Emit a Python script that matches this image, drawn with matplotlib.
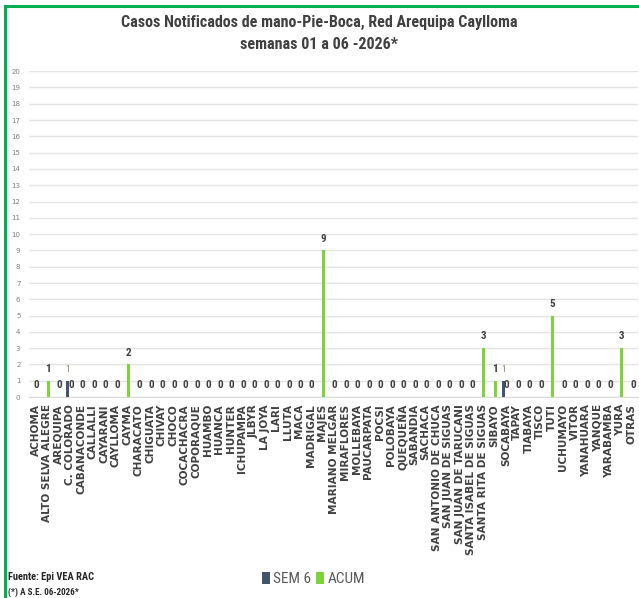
import numpy as np
import matplotlib
matplotlib.use("Agg")
import matplotlib.pyplot as plt
from matplotlib.patches import Rectangle, Patch
from matplotlib import font_manager

distritos = [
    "ACHOMA", "ALTO SELVA ALEGRE", "AREQUIPA", "C. COLORADO", "CABANACONDE",
    "CALLALLI", "CAYARANI", "CAYLLOMA", "CAYMA", "CHARACATO", "CHIGUATA",
    "CHIVAY", "CHOCO", "COCACHACRA", "COPORAQUE", "HUAMBO", "HUANCA",
    "HUNTER", "ICHUPAMPA", "JLBYR", "LA JOYA", "LARI", "LLUTA", "MACA",
    "MADRIGAL", "MAJES", "MARIANO MELGAR", "MIRAFLORES", "MOLLEBAYA",
    "PAUCARPATA", "POCSI", "POLOBAYA", "QUEQUEÑA", "SABANDIA", "SACHACA",
    "SAN ANTONIO DE CHUCA", "SAN JUAN DE SIGUAS", "SAN JUAN DE TARUCANI",
    "SANTA ISABEL DE SIGUAS", "SANTA RITA DE SIGUAS", "SIBAYO", "SOCABAYA",
    "TAPAY", "TIABAYA", "TISCO", "TUTI", "UCHUMAYO", "VITOR", "YANAHUARA",
    "YANQUE", "YARABAMBA", "YURA", "OTRAS",
]

# casos de la semana 6 (solo dos distritos)
sem6 = [0] * len(distritos)
sem6[distritos.index("C. COLORADO")] = 1
sem6[distritos.index("SOCABAYA")] = 1

# acumulado semanas 01 a 06
acum = [0] * len(distritos)
acum[distritos.index("ALTO SELVA ALEGRE")] = 1
acum[distritos.index("CAYMA")] = 2
acum[distritos.index("MAJES")] = 9
acum[distritos.index("SANTA RITA DE SIGUAS")] = 3
acum[distritos.index("SIBAYO")] = 1
acum[distritos.index("TUTI")] = 5
acum[distritos.index("YURA")] = 3

# fuente angosta si existe
nombres = {f.name for f in font_manager.fontManager.ttflist}
narrow = [n for n in ["Liberation Sans Narrow", "DejaVu Sans Condensed",
                      "Roboto Condensed", "Open Sans Condensed"] if n in nombres]
narrow = narrow + ["DejaVu Sans"]
fs_scale = 1.0 if narrow[0] != "DejaVu Sans" else 0.8

c_sem = "#44546a"
c_acum = "#7ed33a"
c_txt = "#404040"

fig = plt.figure(figsize=(6.39, 5.98), dpi=100)
ax = fig.add_axes([0.045, 0.336, 0.953, 0.545])

x = np.arange(len(distritos))
w = 0.26
ax.bar(x - 0.22, sem6, width=w, color=c_sem, zorder=3)
ax.bar(x + 0.08, acum, width=w, color=c_acum, zorder=3)

for xi, v in zip(x, sem6):
    if v > 0:
        ax.annotate(str(v), (xi - 0.22, v), xytext=(0, 8), textcoords="offset points",
                    ha="center", va="center", fontsize=6.5, color="#8a7a60",
                    family=narrow, stretch="condensed")
for xi, v in zip(x, acum):
    ax.annotate(str(v), (xi + 0.08, v), xytext=(0, 8.5), textcoords="offset points",
                ha="center", va="center", fontsize=8 * fs_scale, fontweight="bold",
                color=c_txt, family=narrow, stretch="condensed")

ax.set_xlim(-0.6, len(distritos) - 0.5)
ax.set_ylim(0, 20)
ax.set_yticks(range(0, 21))
ax.yaxis.grid(True, color="#e4e4e4", linewidth=1, zorder=0)
for s in ax.spines.values():
    s.set_visible(False)
ax.spines["bottom"].set_visible(True)
ax.spines["bottom"].set_color("#d9d9d9")
ax.tick_params(axis="both", length=0)
ax.tick_params(axis="y", labelsize=5, labelcolor="#7f7f7f", pad=6)
ax.tick_params(axis="x", pad=5)
ax.set_xticks(x)
ax.set_xticklabels(distritos, rotation=90, fontsize=7.6, fontweight="bold",
                   color=c_txt)

titulo = dict(ha="center", va="center", fontsize=11.5 * fs_scale, fontweight="bold",
              color=c_txt, family=narrow, stretch="condensed")
fig.text(0.5, 0.963, "Casos Notificados de mano-Pie-Boca, Red Arequipa Caylloma", **titulo)
fig.text(0.5, 0.925, "semanas 01 a 06 -2026*", **titulo)

fig.text(0.012, 0.035, "Fuente: Epi VEA RAC", ha="left", va="center",
         fontsize=7.5 * fs_scale, fontweight="bold", color="#262626", family=narrow,
         stretch="condensed")
fig.text(0.012, 0.01, "(*) A S.E. 06-2026*", ha="left", va="center",
         fontsize=6.5 * fs_scale, fontweight="bold", color="#262626", family=narrow,
         stretch="condensed")

handles = [Patch(facecolor=c_sem), Patch(facecolor=c_acum)]
fig.legend(handles, ["SEM 6", "ACUM"], loc="center", bbox_to_anchor=(0.49, 0.032),
           ncol=2, frameon=False,
           prop={"family": narrow, "size": 11 * fs_scale, "stretch": "condensed"},
           handlelength=0.55, handleheight=0.9, handletextpad=0.2,
           columnspacing=0.3, labelcolor="#595959")

# marco verde del cuadro
fig.patches.append(Rectangle((0.008, -0.05), 1.05, 1.04, transform=fig.transFigure,
                             fill=False, edgecolor="#00b050", linewidth=2.2))

fig.savefig("out.png", dpi=100)
